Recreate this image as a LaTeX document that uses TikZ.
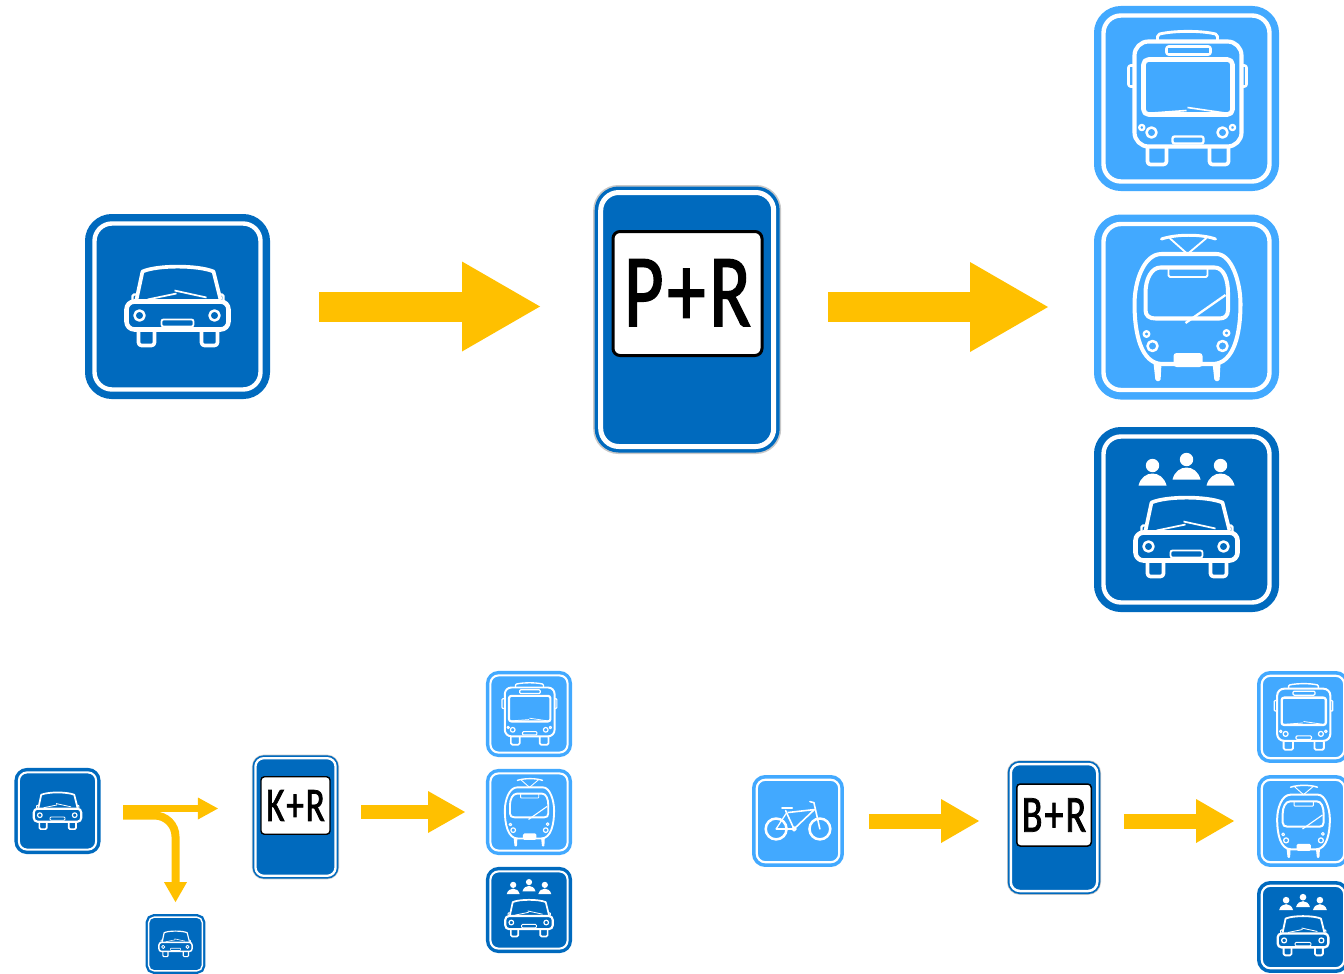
\documentclass[tikz,border=0pt]{standalone}
\usepackage{fontspec}
\newfontfamily\platefont[FakeStretch=0.73,FakeBold=1.5,LetterSpace=4]{Carlito}
\usetikzlibrary{arrows.meta}
\definecolor{signblue}{RGB}{0,106,190}
\definecolor{signsky}{RGB}{66,169,255}
\definecolor{signgrey}{RGB}{200,200,200}
\definecolor{flowyellow}{RGB}{255,192,0}
\tikzset{
  stk/.style={draw=white,line width=1.15*#1*\sc*1pt,line join=round},
  rc/.style={rounded corners=#1*\sc*1pt},
  iconsign/.style 2 args={rectangle,inner sep=0pt,outer sep=0pt,fill=#1,draw=#1,double=white,
    minimum size=166*#2pt,line width=7.3*#2pt,double distance=4.4*#2pt,rounded corners=17.5*#2pt},
  tallsign/.style={rectangle,inner sep=0pt,outer sep=0pt,fill=signblue,draw=signblue,double=white,
    minimum width=173*#1pt,minimum height=254*#1pt,line width=3.5*#1pt,double distance=5*#1pt,rounded corners=18*#1pt},
  halo/.style={rectangle,inner sep=0pt,outer sep=0pt,fill=signgrey,
    minimum width=188*#1pt,minimum height=269*#1pt,rounded corners=25*#1pt},
  plate/.style={rectangle,inner sep=0pt,outer sep=0pt,fill=white,draw=black,text=black,
    minimum width=149*#1pt,minimum height=124*#1pt,line width=3*#1pt,rounded corners=7*#1pt},
  flow/.style n args={3}{draw=flowyellow,line width=#1pt,-{Triangle[length=#2pt,width=#3pt,line width=0pt,fill=flowyellow]}},
  pics/carface/.style={code={\tikzset{scale=#1,yscale=-1}\def\sc{#1}\carshape}},
  pics/busface/.style={code={\tikzset{scale=#1,yscale=-1}\def\sc{#1}
    \draw[stk=3.6,rc=14] (-52,57) rectangle (55,-48);
    \draw[stk=4,rc=5] (-43,39) rectangle (46,-16);
    \draw[stk=2.2,rc=2] (-20,52) rectangle (24,44);
    \draw[stk=2.5,rc=2] (-29,57) -- (-29,64) .. controls (-12,68) and (15,68) .. (31,64) -- (31,57);
    \draw[stk=2.2,rc=2] (-53,33) -- (-58,33) -- (-58,12) -- (-53,12);
    \draw[stk=2.2,rc=2] (56,33) -- (60,33) -- (60,12) -- (56,12);
    \draw[stk=2] (-44.7,-29) circle (2.6) (46,-29) circle (2.6);
    \draw[stk=2.2] (-35,-34) circle (5) (36,-34) circle (5);
    \draw[stk=2,rc=2] (-14,-38) rectangle (17,-45);
    \draw[stk=3.2,rc=3] (-39,-49) -- (-39,-66) -- (-20,-66) -- (-20,-49);
    \draw[stk=3.2,rc=3] (23,-49) -- (23,-66) -- (42,-66) -- (42,-49);
    \draw[stk=1.4] (-41,-15) -- (0,-12) (1,-9) -- (42,-15);
  }},
  pics/tramface/.style={code={\tikzset{scale=#1,yscale=-1}\def\sc{#1}
    \draw[stk=3.5] (-25,53) -- (30,53) .. controls (45,53) and (54,25) .. (54,3)
      .. controls (54,-25) and (48,-57) .. (26,-57) -- (-24,-57)
      .. controls (-46,-57) and (-52,-25) .. (-52,3) .. controls (-52,25) and (-43,53) .. (-25,53) -- cycle;
    \draw[stk=3.5] (-26,39.5) -- (28,39.5) .. controls (37,39.5) and (41.5,28) .. (41.5,14)
      -- (41.5,-3) .. controls (41.5,-9) and (38,-11.5) .. (33,-11.5) -- (-31,-11.5)
      .. controls (-37,-11.5) and (-41,-9) .. (-41,-3) -- (-41,14) .. controls (-41,28) and (-35,39.5) .. (-26,39.5) -- cycle;
    \draw[stk=1.6,rc=1.5] (-18,39) -- (-18,30) -- (21,30) -- (21,39);
    \draw[stk=2] (-1,-16) -- (39,12);
    \draw[stk=2] (-40,-27) circle (2.8) (40,-26) circle (2.8);
    \draw[stk=2.2] (-34,-39) circle (5) (36,-39) circle (5);
    \fill[white,rc=3] (-13,-46) rectangle (16,-60);
    \fill[white,rc=1.5] (-33,-56) -- (-25,-56) -- (-26,-74) -- (-31,-74) -- cycle;
    \fill[white,rc=1.5] (26,-56) -- (34,-56) -- (33,-74) -- (28,-74) -- cycle;
    \draw[stk=2.6,line cap=round] (-25,68) .. controls (-10,73) and (15,73) .. (29,68);
    \draw[stk=1.6] (-17,69) -- (1,53) -- (20,69);
  }},
  pics/groupface/.style={code={\tikzset{scale=#1,yscale=-1}\def\sc{#1}
    \foreach \px/\py in {-34/54,0/60,34/54} {
      \fill[white] (\px,\py) circle (6.7);
      \fill[white] ({\px-14},{\py-20}) .. controls ({\px-12},{\py-12}) and ({\px-6},{\py-8}) .. (\px,{\py-8})
        .. controls ({\px+6},{\py-8}) and ({\px+12},{\py-12}) .. ({\px+14},{\py-20}) -- cycle;
    }
    \begin{scope}[shift={(0,-18)}]
      \carshape
    \end{scope}
  }},
  pics/bikeface/.style={code={\tikzset{scale=#1,yscale=-1}\def\sc{#1}
    \draw[stk=4.4] (-44,-16) circle (21) (44,-16) circle (21);
    \draw[stk=2.8,line cap=round] (-44,-16) -- (-8,-16) -- (-25,21);
    \draw[stk=2.2] (-44,-16) -- (-24,15);
    \draw[stk=2.8] (-21,17) -- (33,23) -- (-8,-16);
    \draw[stk=2.6] (-8,-16) circle (4);
    \draw[stk=2.8,line cap=round] (44,-16) -- (32,37) -- (24,39);
    \draw[stk=3.6,line cap=round] (-32,27) -- (-12,27);
  }},
}
\newcommand{\carshape}{
  \draw[stk=4,rc=8] (-51,5) rectangle (51,-23);
  \draw[stk=3.2] (-41,7) -- (-35,35) .. controls (-20,41.5) and (20,41.5) .. (36,35) -- (43,7);
  \draw[stk=1.5] (-30,7) -- (-1,13) (-3,16) -- (29,9);
  \draw[stk=2,rc=1.5] (-41,12) -- (-45,12) -- (-45,6);
  \draw[stk=2,rc=1.5] (43,12) -- (46,12) -- (46,6);
  \draw[stk=3.2,rc=3] (-39,-24) -- (-39,-39) -- (-23,-39) -- (-23,-24);
  \draw[stk=3.2,rc=3] (24,-24) -- (24,-39) -- (40,-39) -- (40,-24);
  \draw[stk=2.2] (-38,-9) circle (5) (37,-9) circle (5);
  \draw[stk=1.6,rc=2] (-16,-13) rectangle (16,-20);
}
\begin{document}
\begin{tikzpicture}[x=1pt,y=-1pt]
  \useasboundingbox (0,0) rectangle (1344,974);
  \clip (0,0) rectangle (1344,974);
  % main row
  \node[iconsign={signblue}{1}] (car) at (177.5,306.5) {};
  \pic at (car) {carface=1};
  \node[halo=1] (prhalo) at (687.2,319.5) {};
  \node[tallsign=1] (pr) at (687.2,319.5) {};
  \node[plate=1] (prplate) at (687.5,293.5) {\platefont\fontsize{104}{104}\selectfont\raisebox{1.5pt}{P+R}};
  \node[iconsign={signsky}{1}] (bus) at (1186.5,98.5) {};
  \pic at (bus) {busface=1};
  \node[iconsign={signsky}{1}] (tram) at (1186.5,307) {};
  \pic at (tram) {tramface=1};
  \node[iconsign={signblue}{1}] (group) at (1186.5,519.5) {};
  \pic at (group) {groupface=1};
  \draw[flow={30}{78}{90},shorten <=58.5pt,shorten >=60.7pt] (car) -- (car -| pr.west);
  \draw[flow={30}{78}{90},shorten <=54.3pt,shorten >=55.5pt] (tram -| pr.east) -- (tram.west);
  % kiss and ride
  \node[iconsign={signblue}{.465}] (kcar) at (57.5,811) {};
  \pic at (kcar) {carface=.465};
  \node[iconsign={signblue}{.324}] (kdrop) at (175.5,944) {};
  \pic at (kdrop) {carface=.324};
  \node[halo=.463] (krhalo) at (295.5,817) {};
  \node[tallsign=.463] (kr) at (295.5,817) {};
  \node[plate=.463] (krplate) at (295.5,805.5) {\platefont\fontsize{48}{48}\selectfont K+R};
  \node[iconsign={signsky}{.465}] (kbus) at (529,714) {};
  \pic at (kbus) {busface=.465};
  \node[iconsign={signsky}{.465}] (ktram) at (529,812) {};
  \pic at (ktram) {tramface=.465};
  \node[iconsign={signblue}{.465}] (kgroup) at (529,910) {};
  \pic at (kgroup) {groupface=.465};
  \coordinate (forkup) at (123,808.5);
  \coordinate (forkdown) at (123,815.5);
  \draw[flow={7}{20}{22},shorten >=37.5pt] (forkup) -- (forkup -| kr.west);
  \draw[flow={8}{20}{23},rounded corners=21pt,shorten >=15pt] (forkdown) -| (kdrop.north);
  \draw[flow={14}{37}{42},shorten <=25.5pt,shorten >=25.4pt] (ktram -| kr.east) -- (ktram.west);
  % bike and ride
  \node[iconsign={signsky}{.497}] (bike) at (798,821) {};
  \pic at (bike) {bikeface=.497};
  \node[halo=.5] (brhalo) at (1054,827.5) {};
  \node[tallsign=.5] (br) at (1054,827.5) {};
  \node[plate=.5] (brplate) at (1054,815) {\platefont\fontsize{52}{52}\selectfont B+R};
  \node[iconsign={signsky}{.497}] (bbus) at (1303,717) {};
  \pic at (bbus) {busface=.497};
  \node[iconsign={signsky}{.497}] (btram) at (1303,821) {};
  \pic at (btram) {tramface=.497};
  \node[iconsign={signblue}{.497}] (bgroup) at (1303,927) {};
  \pic at (bgroup) {groupface=.497};
  \draw[flow={15}{38}{44},shorten <=29.7pt,shorten >=31.7pt] (bike) -- (bike -| br.west);
  \draw[flow={15}{38}{44},shorten <=26.7pt,shorten >=27.7pt] (btram -| br.east) -- (btram.west);
\end{tikzpicture}
\end{document}
